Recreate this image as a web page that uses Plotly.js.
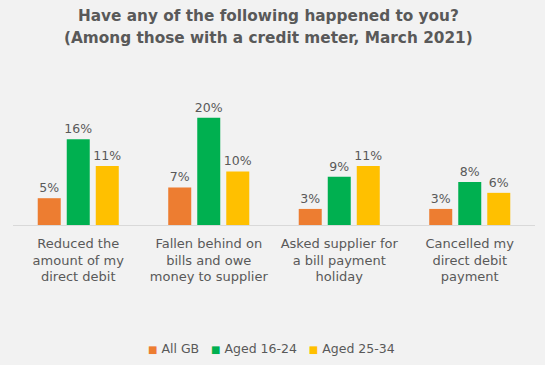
<!DOCTYPE html>
<html>
<head>
<meta charset="utf-8">
<script src="https://cdn.plot.ly/plotly-3.0.1.min.js"></script>
<style>html,body{margin:0;padding:0;background:#f2f2f2;}#chart{width:545px;height:365px;}</style>
</head>
<body>
<div id="chart"></div>
<script>
const categories = [
  "Reduced the<br>amount of my<br>direct debit",
  "Fallen behind on<br>bills and owe<br>money to supplier",
  "Asked supplier for<br>a bill payment<br>holiday",
  "Cancelled my<br>direct debit<br>payment"
];
const seriesNames = ["All GB", "Aged 16-24", "Aged 25-34"];
const allGB = [5, 7, 3, 3];
const aged1624 = [16, 20, 9, 8];
const aged2534 = [11, 10, 11, 6];
const colors = ["#ED7D31", "#00B050", "#FFC000"];
const values = [allGB, aged1624, aged2534];

const font = "Verdana, 'DejaVu Sans', sans-serif";
const grey = "#595959";
const traces = values.map((v, i) => ({
  type: "bar",
  name: seriesNames[i],
  x: categories,
  y: v,
  marker: {color: colors[i]},
  text: v.map(d => d + "%"),
  textposition: "outside",
  constraintext: "none",
  cliponaxis: false,
  textfont: {family: font, size: 12.5, color: grey},
  hoverinfo: "none"
}));

const legendText = seriesNames.map((n, i) =>
  `<span style="color:${colors[i]};font-size:10px">■</span> ${n}`).join("   ");

const layout = {
  width: 545, height: 365,
  paper_bgcolor: "#f2f2f2", plot_bgcolor: "#f2f2f2",
  margin: {l: 13, r: 10, t: 91, b: 140},
  barmode: "group",
  bargap: 0.333,
  bargroupgap: 0.207,
  font: {family: font, color: grey},
  showlegend: false,
  xaxis: {
    showline: true, linecolor: "#d9d9d9", linewidth: 1,
    ticks: "", tickfont: {family: font, size: 13, color: grey},
    ticklabelstandoff: 6,
    showgrid: false, zeroline: false
  },
  yaxis: {
    range: [0, 25], visible: false, showgrid: false, zeroline: false
  },
  annotations: [
    {
      text: "<b>Have any of the following happened to you?</b>",
      xref: "paper", yref: "paper", x: 0.49, y: 0, xanchor: "center", yanchor: "middle",
      showarrow: false, font: {family: font, size: 15.3, color: grey}
    },
    {
      text: "<b>(Among those with a credit meter, March 2021)</b>",
      xref: "paper", yref: "paper", x: 0.49, y: 0, xanchor: "center", yanchor: "middle",
      showarrow: false, font: {family: font, size: 15.3, color: grey}
    },
    {
      text: legendText,
      xref: "paper", yref: "paper", x: 0.495, y: 0, xanchor: "center", yanchor: "middle",
      showarrow: false, font: {family: font, size: 12.5, color: grey}
    }
  ]
};
// place annotations in pixel terms relative to the plot area (t=91, plot height=134)
const ph = 365 - 91 - 140;
const yFromPx = py => (365 - 140 - py) / ph;
layout.annotations[0].y = yFromPx(16.5);
layout.annotations[1].y = yFromPx(37.5);
layout.annotations[2].y = yFromPx(348);

Plotly.newPlot("chart", traces, layout, {displayModeBar: false, staticPlot: true});
</script>
</body>
</html>
